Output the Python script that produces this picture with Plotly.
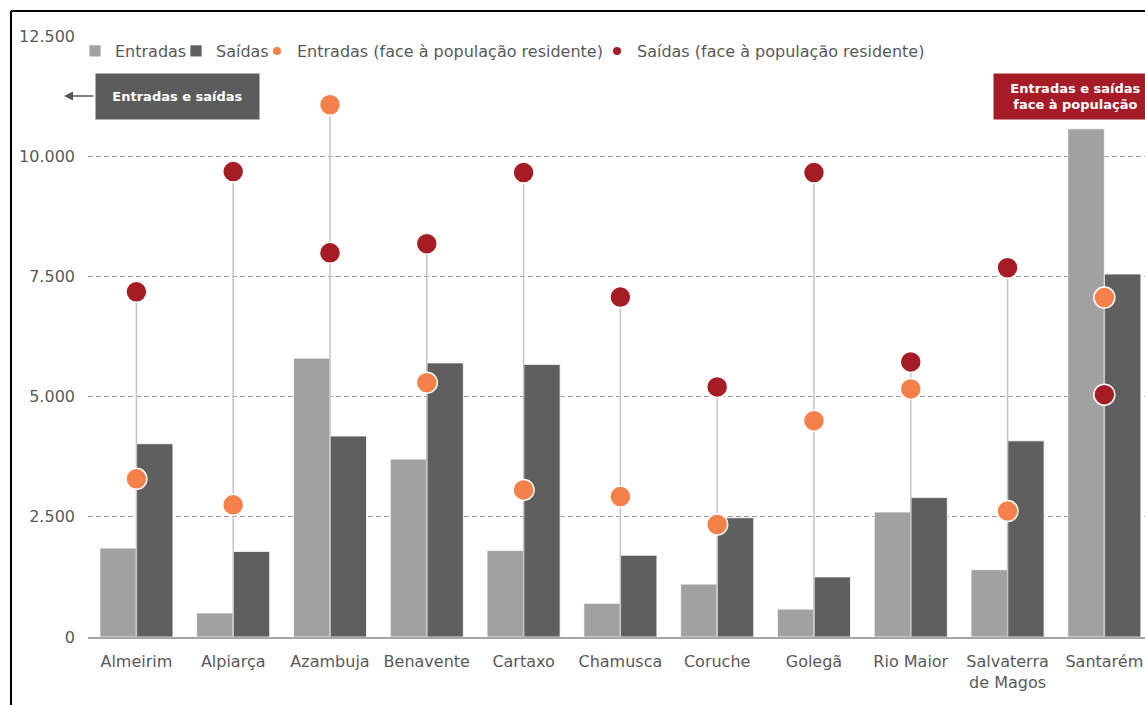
import plotly.graph_objects as go

# Concelhos
concelhos = ["Almeirim", "Alpiarça", "Azambuja", "Benavente", "Cartaxo", "Chamusca",
             "Coruche", "Golegã", "Rio Maior", "Salvaterra<br>de Magos", "Santarém"]

# Movimentos pendulares (número de pessoas)
entradas = [1850, 500, 5800, 3700, 1800, 700, 1100, 580, 2600, 1400, 10570]
saidas = [4020, 1780, 4180, 5700, 5670, 1700, 2480, 1250, 2900, 4080, 7550]

# Movimentos face à população residente
entradas_pop = [3290, 2750, 11070, 5290, 3060, 2920, 2340, 4500, 5160, 2620, 7060]
saidas_pop = [7180, 9680, 7990, 8180, 9660, 7070, 5200, 9660, 5720, 7680, 5040]

C_ENT = "#a0a1a0"
C_SAI = "#5e5f5e"
C_ENT_POP = "#f5804a"
C_SAI_POP = "#a61c24"
C_TEXT = "#595959"
FONT = "DejaVu Sans"

W, H = 1145, 705
ML, MR, MT, MB = 88, 0, 36, 68
PW, PH = W - ML - MR, H - MT - MB


def px_x(px):
    return (px - ML) / PW


def px_y(py):
    return (H - MB - py) / PH


fig = go.Figure()

fig.add_trace(go.Bar(x=concelhos, y=entradas, name="Entradas",
                     marker=dict(color=C_ENT, line=dict(color="white", width=0.8)),
                     legend="legend"))
fig.add_trace(go.Bar(x=concelhos, y=saidas, name="Saídas",
                     marker=dict(color=C_SAI, line=dict(color="white", width=0.8)),
                     legend="legend2"))

# Hastes verticais desde o eixo até ao ponto mais alto de cada concelho
stem_x, stem_y = [], []
for c, a, b in zip(concelhos, entradas_pop, saidas_pop):
    stem_x += [c, c, None]
    stem_y += [0, max(a, b), None]
fig.add_trace(go.Scatter(x=stem_x, y=stem_y, mode="lines",
                         line=dict(color="#c4c4c4", width=1.5),
                         showlegend=False, hoverinfo="skip"))

fig.add_trace(go.Scatter(x=concelhos, y=entradas_pop, mode="markers",
                         marker=dict(color=C_ENT_POP, size=21, line=dict(color="white", width=1.5)),
                         showlegend=False, name="Entradas (face à população residente)"))
fig.add_trace(go.Scatter(x=concelhos, y=saidas_pop, mode="markers",
                         marker=dict(color=C_SAI_POP, size=21, line=dict(color="white", width=1.5)),
                         showlegend=False, name="Saídas (face à população residente)"))

# Entradas de legenda com marcadores pequenos
fig.add_trace(go.Scatter(x=[None], y=[None], mode="markers",
                         marker=dict(color=C_ENT_POP, size=8),
                         name="Entradas (face à população residente)", legend="legend3"))
fig.add_trace(go.Scatter(x=[None], y=[None], mode="markers",
                         marker=dict(color=C_SAI_POP, size=8),
                         name="Saídas (face à população residente)", legend="legend4"))

leg_common = dict(orientation="h", yanchor="middle", xanchor="left", y=px_y(51),
                  bgcolor="rgba(0,0,0,0)", font=dict(family=FONT, size=16, color=C_TEXT),
                  itemwidth=30, itemclick=False)

fig.update_layout(
    width=W, height=H, autosize=False,
    margin=dict(l=ML, r=MR, t=MT, b=MB, pad=0),
    paper_bgcolor="white", plot_bgcolor="white",
    separators=",.",
    barmode="group", bargap=0.245, bargroupgap=0,
    font=dict(family=FONT, size=16, color=C_TEXT),
    legend=dict(leg_common, x=px_x(75)),
    legend2=dict(leg_common, x=px_x(176)),
    legend3=dict(leg_common, x=px_x(257)),
    legend4=dict(leg_common, x=px_x(597)),
    xaxis=dict(range=[-0.5, 10.42], showgrid=False, showline=True, linecolor="#a6a6a6",
               linewidth=1.5, ticks="", tickfont=dict(family=FONT, size=16, color=C_TEXT),
               ticklabelstandoff=9),
    yaxis=dict(range=[0, 12500], dtick=2500, tickformat=",.0f", showgrid=True,
               gridcolor="#a0a0a0", griddash="5px,3px", gridwidth=1.2, zeroline=False,
               showline=False, ticks="", tickfont=dict(family=FONT, size=16, color=C_TEXT),
               ticklabelstandoff=12),
    showlegend=True,
)

# Caixas explicativas
fig.add_annotation(xref="paper", yref="paper", x=px_x(64), y=px_y(96),
                   ax=31, ay=0, axref="pixel", ayref="pixel",
                   text="", showarrow=True, arrowhead=2, arrowsize=1.2, arrowwidth=1.5,
                   arrowcolor=C_TEXT)
fig.add_annotation(xref="paper", yref="paper", x=px_x(95), y=px_y(96),
                   xanchor="left", yanchor="middle", showarrow=False,
                   text="<b>Entradas e saídas</b>", width=159, height=41, borderpad=2,
                   bgcolor="#5b5c5b", font=dict(family=FONT, size=13, color="white"))
fig.add_annotation(xref="paper", yref="paper", x=px_x(993), y=px_y(96),
                   xanchor="left", yanchor="middle", showarrow=False,
                   text="<b>Entradas e saídas<br>face à população</b>", width=159, height=41,
                   borderpad=2, bgcolor="#a51c28",
                   font=dict(family=FONT, size=13, color="white"))

# Moldura
fig.add_shape(type="line", xref="paper", yref="paper",
              x0=px_x(11), x1=px_x(11), y0=px_y(H + 5), y1=px_y(11),
              line=dict(color="black", width=2))
fig.add_shape(type="line", xref="paper", yref="paper",
              x0=px_x(11), x1=px_x(W + 5), y0=px_y(11), y1=px_y(11),
              line=dict(color="black", width=2))

fig.write_html("out.html")
